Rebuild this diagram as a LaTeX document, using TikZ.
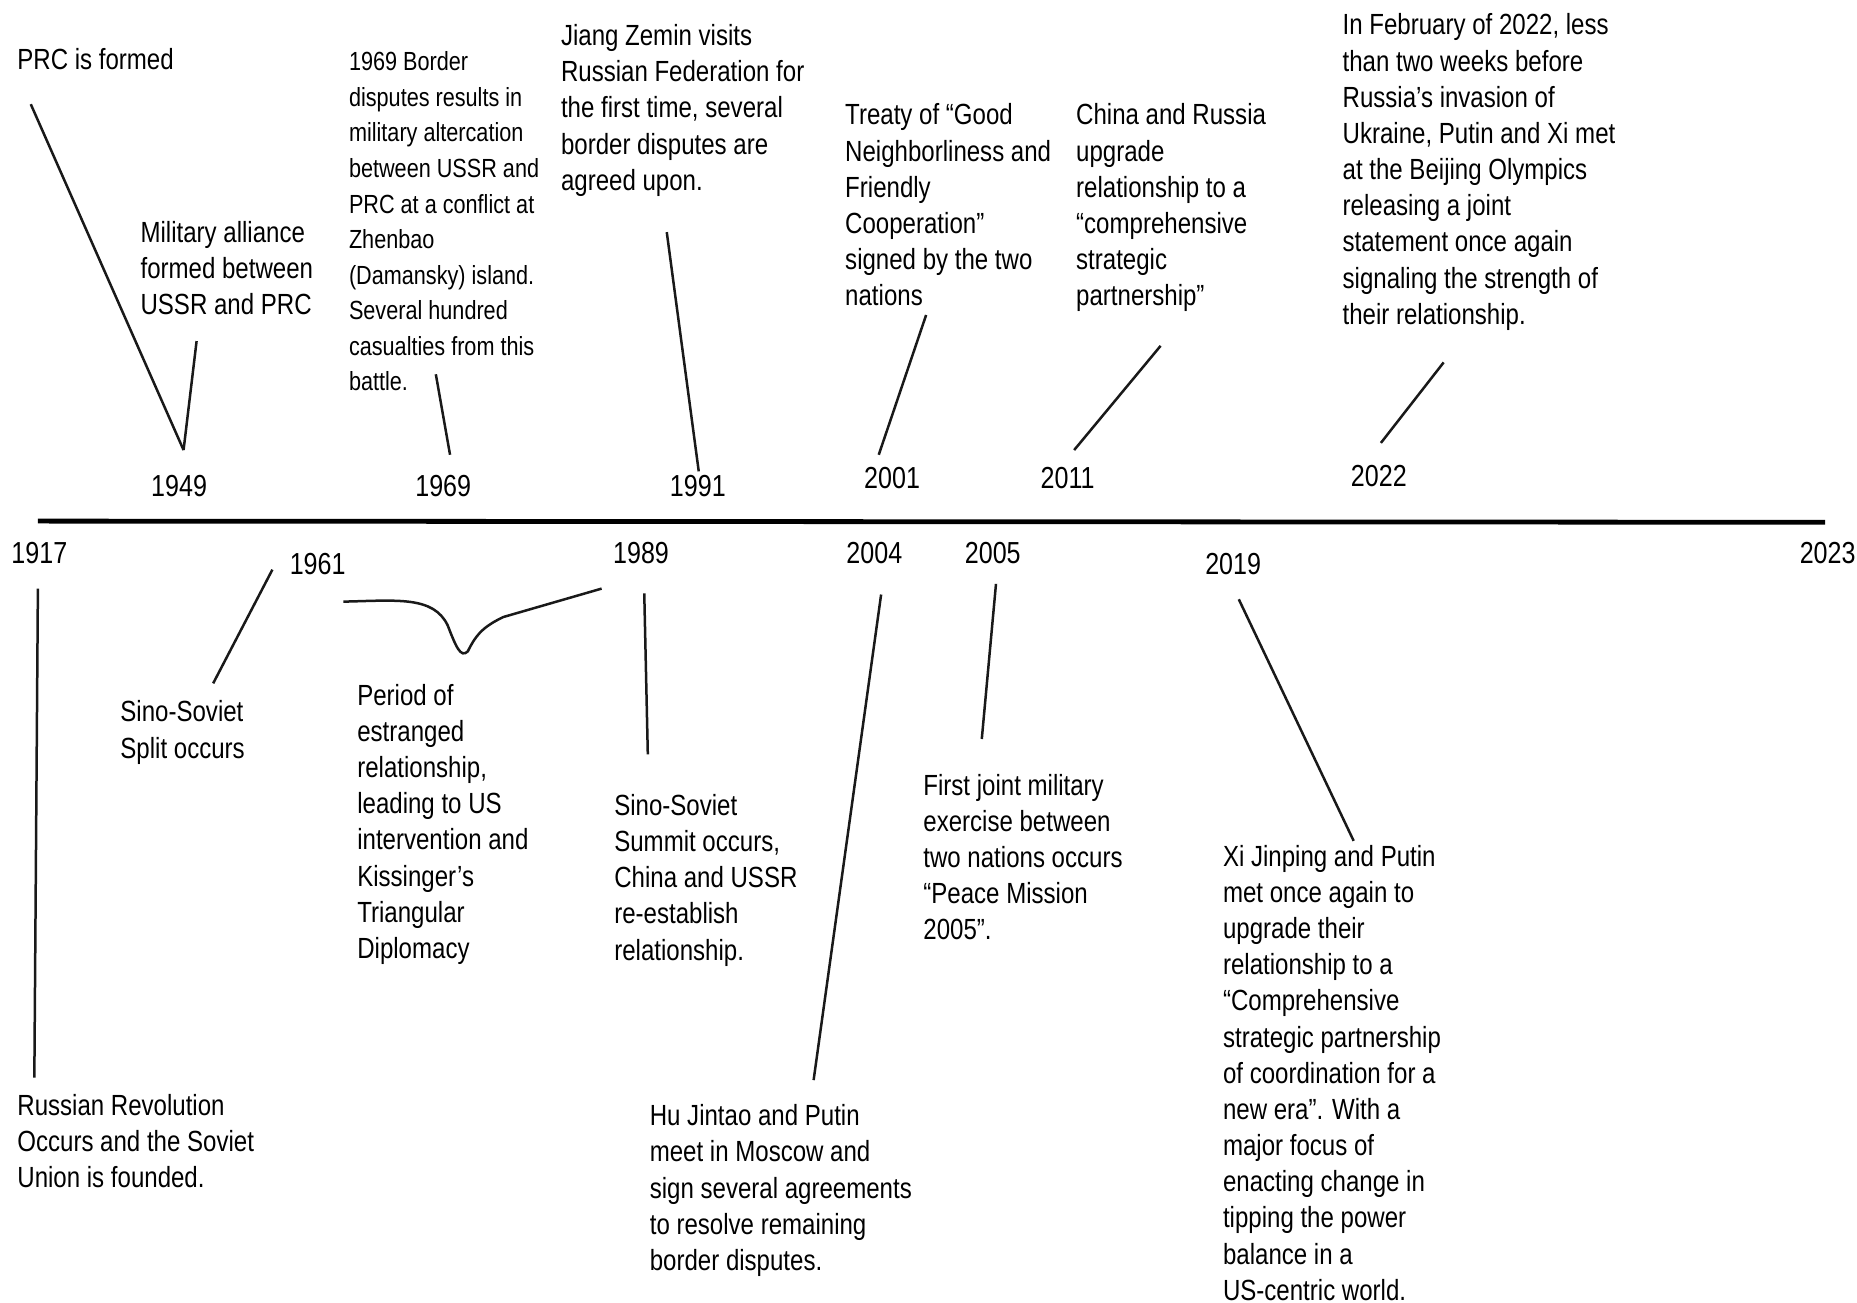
\documentclass[tikz,border=0pt]{standalone}
\usepackage{fontspec}
\setmainfont[FakeStretch=0.825]{Liberation Sans}
\usepackage{tikz}
\usetikzlibrary{positioning}

\begin{document}
\begin{tikzpicture}[
    x=0.01cm, y=-0.01cm,
    event/.style={anchor=north west, align=left, inner sep=0pt,
                  font=\fontsize{7}{8.68}\selectfont},
    smallevent/.style={event, font=\fontsize{6.3}{8.54}\selectfont},
    year/.style={anchor=west, inner sep=0pt, font=\fontsize{7.3}{9}\selectfont},
    tick/.style={line width=0.6pt, black!90},
    axis/.style={line width=1.15pt, black}
]
\useasboundingbox (0,0) rectangle (1568,1100);

% timeline
\coordinate (tl-start) at (32,440);
\coordinate (tl-end) at (1541,441);
\draw[axis] (tl-start) -- (tl-end);

% years above the line
\node[year] (y1949) at (127,410) {1949};
\node[year] (y1969) at (350,410) {1969};
\node[year] (y1991) at (565,410) {1991};
\node[year] (y2001) at (729,404) {2001};
\node[year] (y2011) at (878,404) {2011};
\node[year] (y2022) at (1140,402) {2022};

% years below the line
\node[year] (y1917) at (9,467) {1917};
\node[year] (y1961) at (244,476) {1961};
\node[year] (y1989) at (517,467) {1989};
\node[year] (y2004) at (714,467) {2004};
\node[year] (y2005) at (814,467) {2005};
\node[year] (y2019) at (1017,476) {2019};
\node[year] (y2023) at (1519,467) {2023};

% events above
\node[event] (prc) at (14,40) {PRC is formed};
\node[event] (alliance) at (118,186) {Military alliance\\formed between\\USSR and PRC};
\node[smallevent] (border) at (294,43) {1969 Border\\disputes results in\\military altercation\\between USSR and\\PRC at a conflict at\\Zhenbao\\(Damansky) island.\\Several hundred\\casualties from this\\battle.};
\node[event] (jiang) at (473,20) {Jiang Zemin visits\\Russian Federation for\\the first time, several\\border disputes are\\agreed upon.};
\node[event] (treaty) at (713,87) {Treaty of “Good\\Neighborliness and\\Friendly\\Cooperation”\\signed by the two\\nations};
\node[event] (upgrade) at (908,87) {China and Russia\\upgrade\\relationship to a\\“comprehensive\\strategic\\partnership”};
\node[event] (olympics) at (1133,11) {In February of 2022, less\\than two weeks before\\Russia’s invasion of\\Ukraine, Putin and Xi met\\at the Beijing Olympics\\releasing a joint\\statement once again\\signaling the strength of\\their relationship.};

% events below
\node[event] (revolution) at (14,923) {Russian Revolution\\Occurs and the Soviet\\Union is founded.};
\node[event] (split) at (101,591) {Sino-Soviet\\Split occurs};
\node[event] (estranged) at (301,577) {Period of\\estranged\\relationship,\\leading to US\\intervention and\\Kissinger’s\\Triangular\\Diplomacy};
\node[event] (summit) at (518,670) {Sino-Soviet\\Summit occurs,\\China and USSR\\re-establish\\relationship.};
\node[event] (moscow) at (548,932) {Hu Jintao and Putin\\meet in Moscow and\\sign several agreements\\to resolve remaining\\border disputes.};
\node[event] (exercise) at (779,653) {First joint military\\exercise between\\two nations occurs\\“Peace Mission\\2005”.};
\node[event] (coordination) at (1032,713) {Xi Jinping and Putin\\met once again to\\upgrade their\\relationship to a\\“Comprehensive\\strategic partnership\\of coordination for a\\new era”. With a\\major focus of\\enacting change in\\tipping the power\\balance in a\\US-centric world.};

% pointer ends
\coordinate (prc-a) at (26,88);
\coordinate (v1949) at (155,380);
\coordinate (alliance-a) at (166,288);
\coordinate (border-a) at (368,316);
\coordinate (border-b) at (380,384);
\coordinate (jiang-a) at (563,196);
\coordinate (jiang-b) at (590,398);
\coordinate (treaty-a) at (782,266);
\coordinate (treaty-b) at (742,384);
\coordinate (upgrade-a) at (980,292);
\coordinate (upgrade-b) at (907,380);
\coordinate (olympics-a) at (1219,306);
\coordinate (olympics-b) at (1166,374);
\coordinate (revolution-a) at (32,497);
\coordinate (revolution-b) at (29,910);
\coordinate (split-a) at (230,481);
\coordinate (split-b) at (180,577);
\coordinate (summit-a) at (544,501);
\coordinate (summit-b) at (547,637);
\coordinate (moscow-a) at (744,502);
\coordinate (moscow-b) at (687,912);
\coordinate (exercise-a) at (841,493);
\coordinate (exercise-b) at (829,624);
\coordinate (coord-a) at (1046,506);
\coordinate (coord-b) at (1143,710);
\coordinate (dip-a) at (290,508);
\coordinate (dip-b) at (508,497);

\foreach \a/\b in {prc-a/v1949, alliance-a/v1949, border-a/border-b,
                   jiang-a/jiang-b, treaty-a/treaty-b, upgrade-a/upgrade-b,
                   olympics-a/olympics-b, revolution-a/revolution-b,
                   split-a/split-b, summit-a/summit-b, moscow-a/moscow-b,
                   exercise-a/exercise-b, coord-a/coord-b} {
    \draw[tick] (\a) -- (\b);
}

% estranged period
\draw[tick] (dip-a) .. controls (335,507) and (366,503) .. (378,528)
    .. controls (385,546) and (389,556) .. (395,550)
    .. controls (401,538) and (406,530) .. (425,521) -- (dip-b);
\end{tikzpicture}
\end{document}
